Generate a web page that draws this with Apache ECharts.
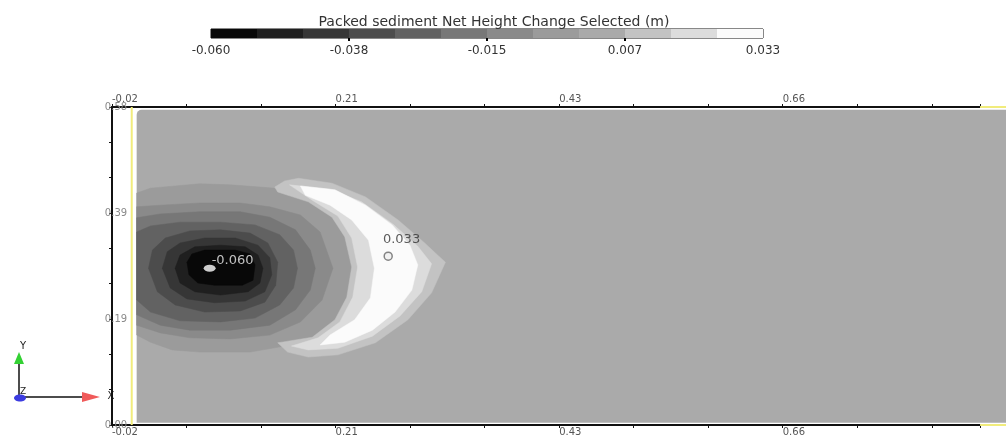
<!DOCTYPE html>
<html>
<head>
<meta charset="utf-8">
<style>
  html, body { margin: 0; padding: 0; background: #fff; }
  #chart { width: 1006px; height: 435px; }
</style>
<script src="https://cdn.jsdelivr.net/npm/echarts/dist/echarts.min.js"></script>
</head>
<body>
<div id="chart"></div>
<script>
// colour bands of the net height change (m)
const bandEdges = [-0.060, -0.05225, -0.0445, -0.03675, -0.029, -0.02125, -0.0135, -0.00575, 0.002, 0.00975, 0.0175, 0.02525, 0.033]
const bandColors = ['#080808', '#1f1f1f', '#363636', '#4c4c4c', '#626262', '#777777', '#8a8a8a', '#9b9b9b', '#aaaaaa', '#c3c3c3', '#dcdcdc', '#fbfbfb']
const barLabels = ['-0.060', '-0.038', '-0.015', '0.007', '0.033']

// axes (m)
const xStart = -0.02
const xTickStep = 0.68 / 9
const yTickStep = 0.58 / 9

// band outlines [x, y] (m)
const domainOutline = [[0.005, 0.004], [0.005, 0.575], [0.8863, 0.575], [0.8863, 0.004]]
const scourL7 = [[0.005, 0.423], [0.019, 0.432], [0.044, 0.436], [0.069, 0.440], [0.100, 0.438], [0.130, 0.434], [0.145, 0.432], [0.171, 0.423], [0.193, 0.405], [0.211, 0.378], [0.221, 0.341], [0.227, 0.286], [0.222, 0.232], [0.211, 0.192], [0.189, 0.159], [0.155, 0.144], [0.120, 0.133], [0.069, 0.133], [0.041, 0.137], [0.019, 0.151], [0.005, 0.164]]
const scourL6 = [[0.005, 0.398], [0.029, 0.401], [0.069, 0.405], [0.110, 0.405], [0.140, 0.398], [0.171, 0.383], [0.191, 0.352], [0.204, 0.286], [0.193, 0.228], [0.171, 0.188], [0.140, 0.164], [0.100, 0.157], [0.059, 0.159], [0.029, 0.168], [0.005, 0.182]]
const scourL5 = [[0.005, 0.378], [0.029, 0.385], [0.069, 0.389], [0.110, 0.389], [0.140, 0.379], [0.166, 0.356], [0.181, 0.319], [0.186, 0.286], [0.181, 0.246], [0.166, 0.210], [0.140, 0.182], [0.100, 0.173], [0.059, 0.173], [0.029, 0.182], [0.005, 0.201]]
const scourL4 = [[0.005, 0.352], [0.019, 0.363], [0.049, 0.370], [0.090, 0.370], [0.125, 0.365], [0.150, 0.347], [0.164, 0.319], [0.168, 0.286], [0.164, 0.250], [0.150, 0.219], [0.125, 0.195], [0.090, 0.188], [0.049, 0.190], [0.019, 0.206], [0.005, 0.228]]
const scourL3 = [[0.017, 0.286], [0.021, 0.319], [0.034, 0.341], [0.059, 0.354], [0.090, 0.356], [0.120, 0.350], [0.138, 0.332], [0.148, 0.297], [0.146, 0.255], [0.135, 0.224], [0.110, 0.208], [0.074, 0.206], [0.044, 0.219], [0.026, 0.243]]
const scourL2 = [[0.031, 0.286], [0.036, 0.316], [0.049, 0.332], [0.074, 0.341], [0.105, 0.341], [0.128, 0.328], [0.140, 0.305], [0.142, 0.274], [0.135, 0.243], [0.115, 0.226], [0.084, 0.223], [0.056, 0.230], [0.039, 0.250]]
const scourL1 = [[0.044, 0.286], [0.049, 0.310], [0.064, 0.325], [0.090, 0.328], [0.115, 0.325], [0.128, 0.310], [0.133, 0.286], [0.130, 0.259], [0.118, 0.243], [0.090, 0.237], [0.064, 0.243], [0.049, 0.259]]
const scourL0 = [[0.056, 0.297], [0.061, 0.312], [0.074, 0.319], [0.105, 0.319], [0.120, 0.312], [0.125, 0.292], [0.123, 0.264], [0.112, 0.255], [0.084, 0.255], [0.067, 0.259], [0.058, 0.274]]
const moundL9 = [[0.145, 0.434], [0.155, 0.445], [0.169, 0.450], [0.203, 0.441], [0.237, 0.416], [0.270, 0.374], [0.297, 0.332], [0.310, 0.310], [0.318, 0.297], [0.304, 0.241], [0.280, 0.192], [0.247, 0.150], [0.209, 0.128], [0.179, 0.124], [0.158, 0.133], [0.148, 0.150], [0.152, 0.151], [0.183, 0.160], [0.206, 0.192], [0.218, 0.233], [0.223, 0.288], [0.216, 0.343], [0.203, 0.379], [0.179, 0.407], [0.148, 0.425]]
const moundL10 = [[0.160, 0.438], [0.201, 0.430], [0.233, 0.407], [0.265, 0.366], [0.290, 0.326], [0.304, 0.294], [0.294, 0.243], [0.272, 0.199], [0.244, 0.162], [0.209, 0.140], [0.179, 0.137], [0.162, 0.144], [0.189, 0.159], [0.211, 0.188], [0.224, 0.233], [0.229, 0.288], [0.223, 0.341], [0.209, 0.381], [0.183, 0.410]]
const moundL11 = [[0.171, 0.436], [0.206, 0.429], [0.237, 0.401], [0.264, 0.365], [0.282, 0.328], [0.290, 0.292], [0.284, 0.246], [0.267, 0.206], [0.244, 0.173], [0.216, 0.151], [0.191, 0.146], [0.201, 0.164], [0.226, 0.192], [0.242, 0.232], [0.246, 0.286], [0.240, 0.337], [0.223, 0.374], [0.201, 0.401], [0.176, 0.419]]

// domain boundary (yellow), shown where the axes do not cover it
const boundaryLeft = [[0, 0], [0, 0.58]]
const boundaryTop = [[0.86, 0.58], [0.8863, 0.58]]
const boundaryBottom = [[0.86, 0], [0.8863, 0]]

// min / max probes
const extremaPoints = [[0.079, 0.286], [0.260, 0.308]]
const extremaValues = [-0.060, 0.033]

const contours = [
  { band: 8, pts: domainOutline, corner: 5 },
  { band: 7, pts: scourL7 },
  { band: 6, pts: scourL6 },
  { band: 5, pts: scourL5 },
  { band: 4, pts: scourL4 },
  { band: 3, pts: scourL3 },
  { band: 2, pts: scourL2 },
  { band: 1, pts: scourL1 },
  { band: 0, pts: scourL0 },
  { band: 9, pts: moundL9 },
  { band: 10, pts: moundL10 },
  { band: 11, pts: moundL11 }
]

const font = 'DejaVu Sans'

function tickLabel(v, step, shift) {
  const k = v / step
  const r = Math.round(k)
  if (Math.abs(k - r) > 0.01 || r % 3 !== 0) return ''
  return (v + shift).toFixed(2)
}

const visibleX = (pos, margin) => ({
  gridIndex: 0,
  type: 'value',
  position: pos,
  min: 0,
  max: 0.88,
  interval: xTickStep,
  axisLine: { show: true, onZero: false, lineStyle: { color: '#111', width: 2 } },
  axisTick: { show: true, length: 3, lineStyle: { color: '#111' } },
  axisLabel: {
    margin,
    align: 'left',
    color: '#555',
    fontSize: 10,
    fontFamily: font,
    formatter: v => tickLabel(v, xTickStep, xStart)
  },
  splitLine: { show: false }
})

const chart = echarts.init(document.getElementById('chart'))

const option = {
  backgroundColor: '#fff',
  animation: false,
  title: {
    text: 'Packed sediment Net Height Change Selected (m)',
    left: 489,
    top: 10,
    textAlign: 'center',
    textStyle: { fontFamily: font, fontSize: 14, fontWeight: 'normal', color: '#333' }
  },
  grid: [
    // axes frame
    { left: 112, top: 107, width: 868, height: 318, outerBoundsMode: 'none' },
    // field
    { left: 112, top: 107, width: 894, height: 318, outerBoundsMode: 'none' },
    // colour bar
    { left: 211, top: 29, width: 552, height: 9, show: true, borderColor: '#111', borderWidth: 1, outerBoundsMode: 'none' }
  ],
  xAxis: [
    visibleX('top', 3),
    visibleX('bottom', 2),
    { gridIndex: 1, type: 'value', min: xStart, max: 0.8863, show: false },
    { gridIndex: 2, type: 'value', min: bandEdges[0], max: bandEdges[bandEdges.length - 1], show: false },
    {
      gridIndex: 2,
      type: 'category',
      position: 'bottom',
      data: barLabels,
      boundaryGap: false,
      axisLine: { show: false },
      axisTick: {
        show: true,
        length: 3,
        interval: (i) => i > 0 && i < barLabels.length - 1,
        lineStyle: { color: '#000', width: 2 }
      },
      axisLabel: { margin: 7, color: '#333', fontSize: 12, fontFamily: font, interval: 0 }
    }
  ],
  yAxis: [
    {
      gridIndex: 0,
      type: 'value',
      position: 'left',
      min: 0,
      max: 0.58,
      interval: yTickStep,
      axisLine: { show: true, onZero: false, lineStyle: { color: '#111', width: 2 } },
      axisTick: { show: true, length: 3, lineStyle: { color: '#111' } },
      axisLabel: {
        margin: -4,
        align: 'center',
        color: '#8a8a8a',
        fontSize: 10,
        fontFamily: font,
        formatter: v => tickLabel(v, yTickStep, 0)
      },
      splitLine: { show: false }
    },
    { gridIndex: 1, type: 'value', min: 0, max: 0.58, show: false },
    { gridIndex: 2, type: 'value', min: 0, max: 1, show: false }
  ],
  series: [
    {
      name: 'field',
      type: 'custom',
      xAxisIndex: 2,
      yAxisIndex: 1,
      z: 2,
      silent: true,
      data: contours.map((c, i) => [i, c.band]),
      renderItem: (params, api) => {
        const c = contours[api.value(0)]
        const color = bandColors[c.band]
        const points = c.pts.map(p => api.coord(p))
        if (c.corner) {
          const xs = points.map(p => p[0])
          const ys = points.map(p => p[1])
          const x0 = Math.min(...xs)
          const y0 = Math.min(...ys)
          return {
            type: 'rect',
            shape: { x: x0, y: y0, width: Math.max(...xs) - x0, height: Math.max(...ys) - y0, r: [c.corner, 0, 0, 0] },
            style: { fill: color }
          }
        }
        return {
          type: 'polygon',
          shape: { points },
          style: { fill: color, stroke: color, lineWidth: 0.5 }
        }
      }
    },
    {
      name: 'boundary',
      type: 'line',
      xAxisIndex: 2,
      yAxisIndex: 1,
      z: 2,
      clip: false,
      silent: true,
      symbol: 'none',
      lineStyle: { color: '#f1ec7c', width: 2 },
      data: [...boundaryLeft, '-', ...boundaryTop, '-', ...boundaryBottom]
    },
    {
      name: 'extrema',
      type: 'scatter',
      xAxisIndex: 2,
      yAxisIndex: 1,
      z: 4,
      silent: true,
      data: [
        {
          value: extremaPoints[0],
          symbol: 'circle',
          symbolSize: [12, 7],
          itemStyle: { color: '#fff' },
          label: {
            show: true,
            position: 'right',
            distance: -4,
            offset: [0, -8],
            formatter: extremaValues[0].toFixed(3),
            color: '#eee',
            fontSize: 13,
            fontFamily: font
          }
        },
        {
          value: extremaPoints[1],
          symbol: 'circle',
          symbolSize: 8,
          itemStyle: { color: '#f0f0f0', borderColor: '#666', borderWidth: 1.5 },
          label: {
            show: true,
            position: 'right',
            distance: -10,
            offset: [0, -17],
            formatter: extremaValues[1].toFixed(3),
            color: '#333',
            fontSize: 13,
            fontFamily: font
          }
        }
      ]
    },
    {
      name: 'colour bar',
      type: 'custom',
      xAxisIndex: 3,
      yAxisIndex: 2,
      silent: true,
      data: bandColors.map((c, i) => [bandEdges[i], bandEdges[i + 1], i]),
      encode: { x: [0, 1] },
      renderItem: (params, api) => {
        const a = api.coord([api.value(0), 1])
        const b = api.coord([api.value(1), 0])
        return {
          type: 'rect',
          shape: { x: a[0], y: a[1], width: b[0] - a[0], height: b[1] - a[1] },
          style: { fill: bandColors[api.value(2)] }
        }
      }
    }
  ],
  // orientation triad
  graphic: [
    { type: 'line', shape: { x1: 19, y1: 397, x2: 19, y2: 362 }, style: { stroke: '#111', lineWidth: 1.5 } },
    { type: 'polygon', shape: { points: [[14, 364], [24, 364], [19, 352]] }, style: { fill: '#33d133' } },
    { type: 'text', x: 23, y: 346, style: { text: 'Y', fontSize: 10, fontFamily: font, fill: '#222', align: 'center', verticalAlign: 'middle' } },
    { type: 'line', shape: { x1: 19, y1: 397, x2: 84, y2: 397 }, style: { stroke: '#111', lineWidth: 1.5 } },
    { type: 'polygon', shape: { points: [[82, 392], [82, 402], [100, 397]] }, style: { fill: '#f05a5a' } },
    { type: 'text', x: 111, y: 396, style: { text: 'X', fontSize: 10, fontFamily: font, fill: '#222', align: 'center', verticalAlign: 'middle' } },
    { type: 'ellipse', shape: { cx: 20, cy: 398, rx: 6, ry: 3.5 }, style: { fill: '#3c3ce0' } },
    { type: 'text', x: 23, y: 392, style: { text: 'Z', fontSize: 9, fontFamily: font, fill: '#222', align: 'center', verticalAlign: 'middle' } }
  ]
}

chart.setOption(option)
</script>
</body>
</html>
